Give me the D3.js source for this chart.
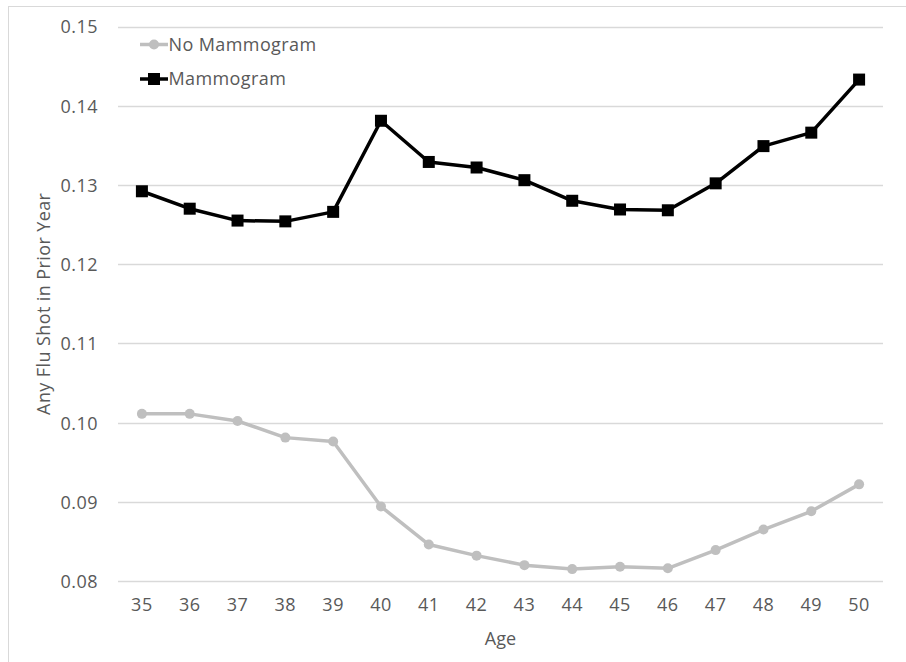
<!DOCTYPE html>
<html>
<head>
<meta charset="utf-8">
<script src="https://cdn.jsdelivr.net/npm/d3@7"></script>
<style>
  html, body { margin: 0; padding: 0; background: #fff; }
  svg { display: block; }
  text { font-family: "Open Sans", "Liberation Sans", sans-serif; fill: #595959; }
</style>
</head>
<body>
<svg id="chart" width="906" height="662"></svg>
<script>
const ages = ["35","36","37","38","39","40","41","42","43","44","45","46","47","48","49","50"];
const noMammogram = [0.1011, 0.1011, 0.1002, 0.0981, 0.0976, 0.0894, 0.0846, 0.0832, 0.0820, 0.0815, 0.0818, 0.0816, 0.0839, 0.0865, 0.0888, 0.0922];
const mammogram = [0.1292, 0.1270, 0.1255, 0.1254, 0.1266, 0.1381, 0.1329, 0.1322, 0.1306, 0.1280, 0.1269, 0.1268, 0.1302, 0.1349, 0.1366, 0.1433];
const yTicks = [0.08, 0.09, 0.10, 0.11, 0.12, 0.13, 0.14, 0.15];
const seriesNames = ["No Mammogram", "Mammogram"];
const xTitle = "Age";
const yTitle = "Any Flu Shot in Prior Year";

const svg = d3.select("#chart");
const W = 906, H = 662;
const m = { left: 118, right: 23, top: 26.5, bottom: 81 };

// outer chart border
svg.append("rect").attr("x", 8.5).attr("y", 6.5).attr("width", W + 20).attr("height", H + 20)
  .attr("fill", "none").attr("stroke", "#d9d9d9").attr("stroke-width", 1);

const x = d3.scaleBand().domain(ages).range([m.left, W - m.right]);
const y = d3.scaleLinear().domain([0.08, 0.15]).range([H - m.bottom, m.top]);

// gridlines
svg.append("g").selectAll("line").data(yTicks).join("line")
  .attr("x1", m.left).attr("x2", W - m.right)
  .attr("y1", d => Math.round(y(d)) + 0.5).attr("y2", d => Math.round(y(d)) + 0.5)
  .attr("stroke", "#d9d9d9").attr("stroke-width", 1.3);

// y axis
const yAxis = svg.append("g").attr("transform", `translate(${m.left},0)`)
  .call(d3.axisLeft(y).tickValues(yTicks).tickFormat(d3.format(".2f")).tickSize(0).tickPadding(20));
yAxis.select(".domain").remove();
yAxis.selectAll("text").style("font-size", "18px").style("letter-spacing", "0.5px").attr("fill", "#595959").attr("dy", "0.36em");

// x axis
const xAxis = svg.append("g").attr("transform", `translate(0,${H - m.bottom})`)
  .call(d3.axisBottom(x).tickSize(0).tickPadding(17));
xAxis.select(".domain").remove();
xAxis.selectAll("text").style("font-size", "18px").style("letter-spacing", "0.5px").attr("fill", "#595959");

// axis titles
svg.append("text").attr("x", (m.left + W - m.right) / 2).attr("y", 645)
  .attr("text-anchor", "middle").style("font-size", "18px").text(xTitle);
svg.append("text").attr("transform", `translate(50,${(m.top + H - m.bottom) / 2}) rotate(-90)`)
  .attr("text-anchor", "middle").style("font-size", "18px").style("letter-spacing", "0.4px").text(yTitle);

const cx = d => x(d) + x.bandwidth() / 2;
const line = d3.line().x(d => cx(d.age)).y(d => y(d.v));

const gray = "#bfbfbf";
const dGray = ages.map((a, i) => ({ age: a, v: noMammogram[i] }));
const dBlack = ages.map((a, i) => ({ age: a, v: mammogram[i] }));

svg.append("path").datum(dGray).attr("d", line).attr("fill", "none")
  .attr("stroke", gray).attr("stroke-width", 3.5).attr("stroke-linejoin", "round");
svg.append("g").selectAll("circle").data(dGray).join("circle")
  .attr("cx", d => cx(d.age)).attr("cy", d => y(d.v)).attr("r", 5).attr("fill", gray);

svg.append("path").datum(dBlack).attr("d", line).attr("fill", "none")
  .attr("stroke", "#000").attr("stroke-width", 3.5).attr("stroke-linejoin", "round");
svg.append("g").selectAll("rect").data(dBlack).join("rect")
  .attr("x", d => cx(d.age) - 6).attr("y", d => y(d.v) - 6).attr("width", 12).attr("height", 12).attr("fill", "#000");

// legend
const legend = [
  { name: seriesNames[0], color: gray, shape: "circle", y: 44.5 },
  { name: seriesNames[1], color: "#000", shape: "square", y: 79 }
];
legend.forEach(l => {
  const g = svg.append("g");
  g.append("line").attr("x1", 140).attr("x2", 168).attr("y1", l.y).attr("y2", l.y)
    .attr("stroke", l.color).attr("stroke-width", 3.5);
  if (l.shape === "circle") g.append("circle").attr("cx", 154).attr("cy", l.y).attr("r", 5).attr("fill", l.color);
  else g.append("rect").attr("x", 148).attr("y", l.y - 6).attr("width", 12).attr("height", 12).attr("fill", l.color);
  g.append("text").attr("x", 168.5).attr("y", l.y).attr("dy", "0.36em")
    .style("font-size", "18px").style("letter-spacing", "0.4px").text(l.name);
});
</script>
</body>
</html>
